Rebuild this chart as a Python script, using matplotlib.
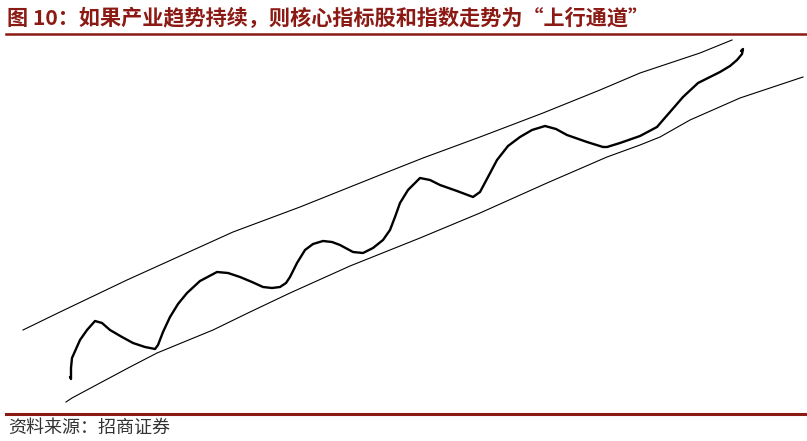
import matplotlib.pyplot as plt

plt.rcParams['font.family'] = ['Noto Sans CJK SC', 'DejaVu Sans']

title = '图 10：如果产业趋势持续，则核心指标股和指数走势为“上行通道”'
source = '资料来源：招商证券'

# hand-drawn price curve (x, y in picture pixels, y downwards)
curve_x = [70, 71, 71, 72, 76, 80, 87, 95, 102, 110, 122, 133, 145, 155, 158, 163, 170,
           178, 187, 200, 217, 228, 240, 252, 263, 272, 280, 286, 290, 297, 305, 313,
           323, 332, 340, 353, 363, 373, 383, 390, 395, 400, 408, 420, 430, 440, 457,
           473, 480, 488, 497, 508, 520, 532, 545, 556, 567, 587, 603, 607, 620, 640,
           657, 663, 670, 683, 698, 710, 720, 730, 737, 742, 743, 741]
curve_y = [377, 379, 368, 358, 349, 340, 330, 321, 323, 330, 337, 343, 347, 349, 345, 332, 317,
           304, 293, 281, 272, 273, 277, 282, 287, 288, 287, 283, 277, 263, 250, 244,
           241, 242, 245, 252, 253, 248, 240, 230, 217, 203, 190, 178, 180, 185, 191,
           197, 192, 177, 160, 146, 137, 130, 126, 129, 135, 142, 147, 147, 143, 136,
           127, 120, 112, 97, 83, 77, 72, 66, 60, 54, 49, 51]

upper_x = [23, 60, 127, 180, 233, 300, 380, 423, 480, 543, 600, 640, 673, 700, 732]
upper_y = [330, 312, 280, 256, 232, 207, 175, 158, 137, 113, 90, 73, 62, 53, 40]

lower_x = [66, 72, 100, 130, 157, 213, 250, 290, 350, 420, 480, 547, 607, 640, 660, 690, 740, 773, 803]
lower_y = [402, 398, 383, 367, 353, 330, 312, 293, 266, 238, 213, 183, 157, 145, 137, 120, 98, 87, 77]

red = '#8C1A14'

fig = plt.figure(figsize=(8.07, 4.41), dpi=100)
ax = fig.add_axes([0, 0, 1, 1])
ax.set_xlim(0, 807)
ax.set_ylim(441, 0)
ax.axis('off')

ax.plot(upper_x, upper_y, color='black', lw=0.8)
ax.plot(lower_x, lower_y, color='black', lw=0.8)
ax.plot(curve_x, curve_y, color='black', lw=1.7, solid_joinstyle='round', solid_capstyle='round')

ax.text(7, 18, title, color=red, fontsize=15.2, fontweight='bold', va='center', ha='left')
ax.plot([6, 807], [34, 34], color=red, lw=1.8)
ax.plot([6, 807], [414, 414], color=red, lw=2.2)
ax.text(8, 428, source, color='#333333', fontsize=13, va='center', ha='left')

fig.savefig('out.png', dpi=100)
